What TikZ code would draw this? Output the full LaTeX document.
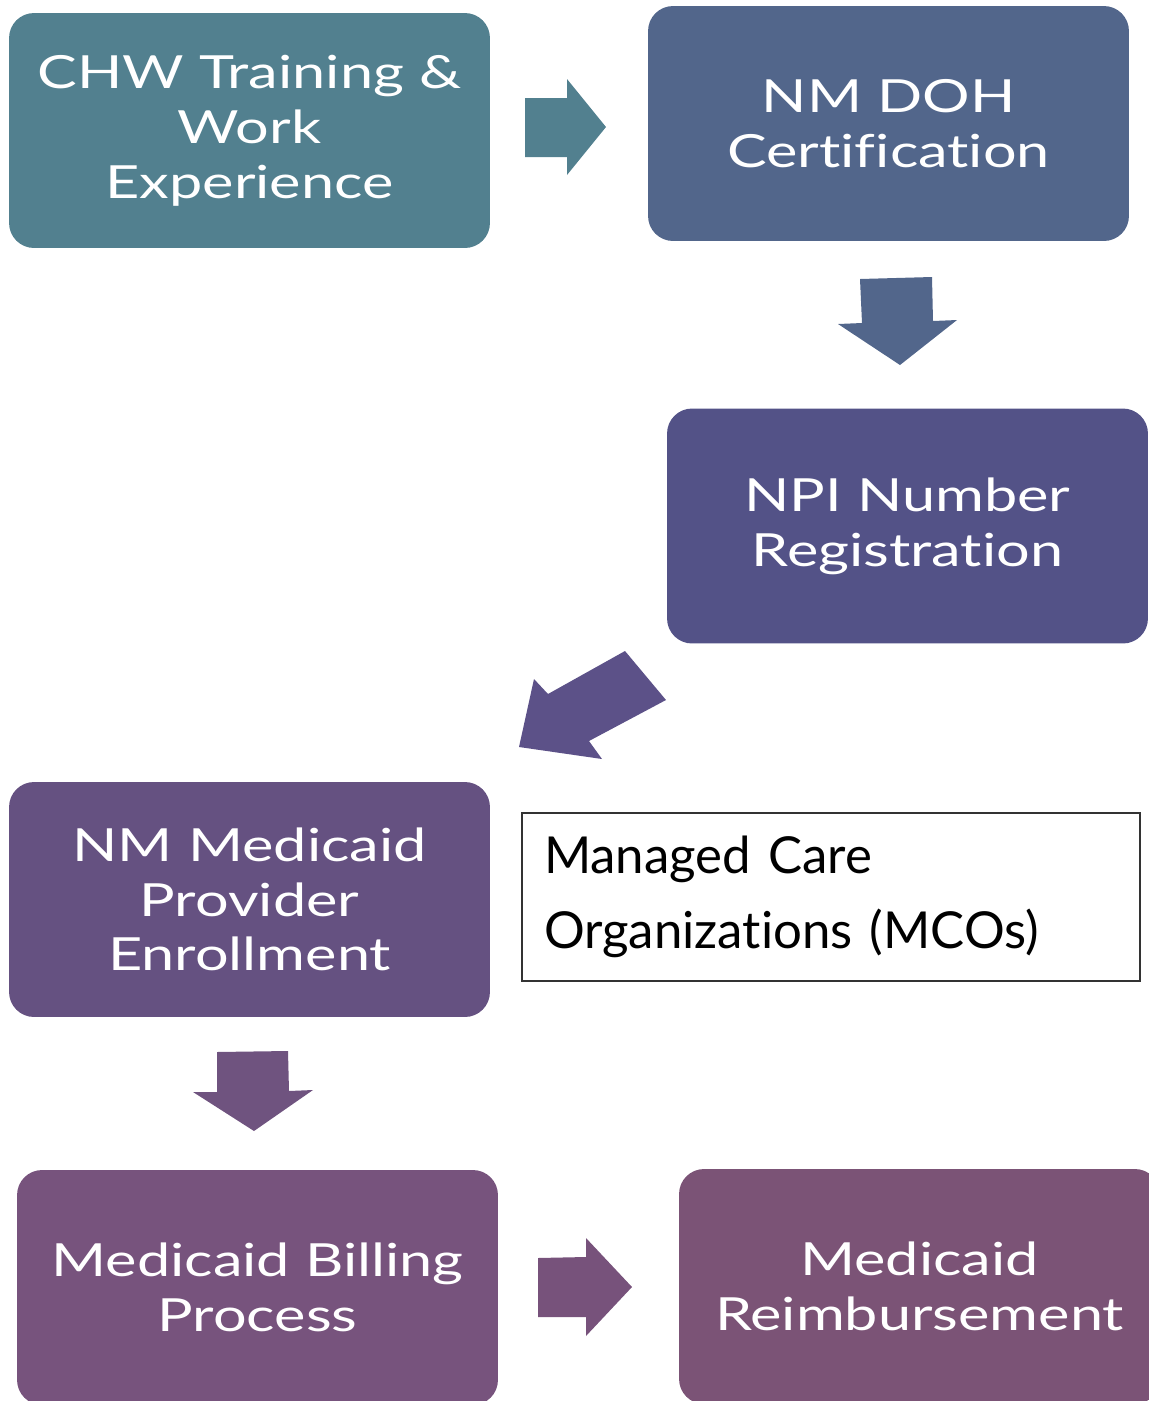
\documentclass[tikz,border=0pt]{standalone}
\usepackage{fontspec}
\usepackage{tikz}
\newfontfamily\boxfont[FakeStretch=1.3, Ligatures={NoCommon, NoContextual}]{Lato}
\newfontfamily\mcofont[Ligatures={NoCommon, NoContextual}]{Lato}
\definecolor{tealbox}{HTML}{52808F}
\definecolor{slatebox}{HTML}{52668B}
\definecolor{indigobox}{HTML}{535287}
\definecolor{indigoarr}{HTML}{5C5188}
\definecolor{violetbox}{HTML}{655181}
\definecolor{violetarr}{HTML}{6F537F}
\definecolor{plumbox}{HTML}{77537D}
\definecolor{plumarr}{HTML}{77527B}
\definecolor{mauvebox}{HTML}{7B5376}

\begin{document}
\begin{tikzpicture}[x=0.02cm, y=-0.02cm,
		stepbox/.style={rectangle, rounded corners=0.5cm, minimum width=9.62cm, minimum height=4.7cm,
			inner sep=0pt, text=white, align=center, font=\boxfont\fontsize{26}{31.2}\selectfont}]
				\path[use as bounding box, clip] (0,0) rectangle (1149,1401);
				\node[stepbox, fill=tealbox] (chw) at (249.5,130.5) {CHW Training \&\\Work\\Experience};
				\node[stepbox, fill=slatebox] (doh) at (888.5,123.5) {NM DOH\\Certification};
				\node[stepbox, fill=indigobox] (npi) at (907.5,526) {NPI Number\\Registration};
				\node[stepbox, fill=violetbox] (enroll) at (249.5,899.5) {NM Medicaid\\Provider\\Enrollment};
				\node[stepbox, fill=plumbox] (billing) at (257.5,1287.5) {Medicaid Billing\\Process};
				\node[stepbox, fill=mauvebox] (reimb) at (919.5,1286.5) {Medicaid\\Reimbursement};
				\node[draw=black!80, line width=0.8pt, fill=white, minimum width=12.36cm, minimum height=3.36cm,
					inner xsep=0.44cm, text width=11.48cm, align=left, font=\mcofont\fontsize{29}{42.5}\selectfont]
					(mco) at (831,897) {Managed Care\\Organizations (MCOs)};
				\fill[tealbox] (525,98) -- (567,98) -- (567,79) -- (606,127) -- (567,175) -- (567,157) -- (525,157) -- cycle;
				\fill[slatebox] (860,279) -- (932,277) -- (933,321) -- (957,320) -- (900,365) -- (838,324) -- (862,323) -- cycle;
				\fill[indigoarr] (625,651) -- (666,700) -- (589,741) -- (602,759) -- (519,747) -- (534,679) -- (548,694) -- cycle;
				\fill[violetarr] (217,1052) -- (288,1051) -- (289,1091) -- (313,1090) -- (254,1131) -- (193,1092) -- (217,1092) -- cycle;
				\fill[plumarr] (538,1258) -- (586,1257) -- (586,1238) -- (632,1287) -- (586,1336) -- (586,1317) -- (538,1317) -- cycle;
			\end{tikzpicture}
\end{document}
